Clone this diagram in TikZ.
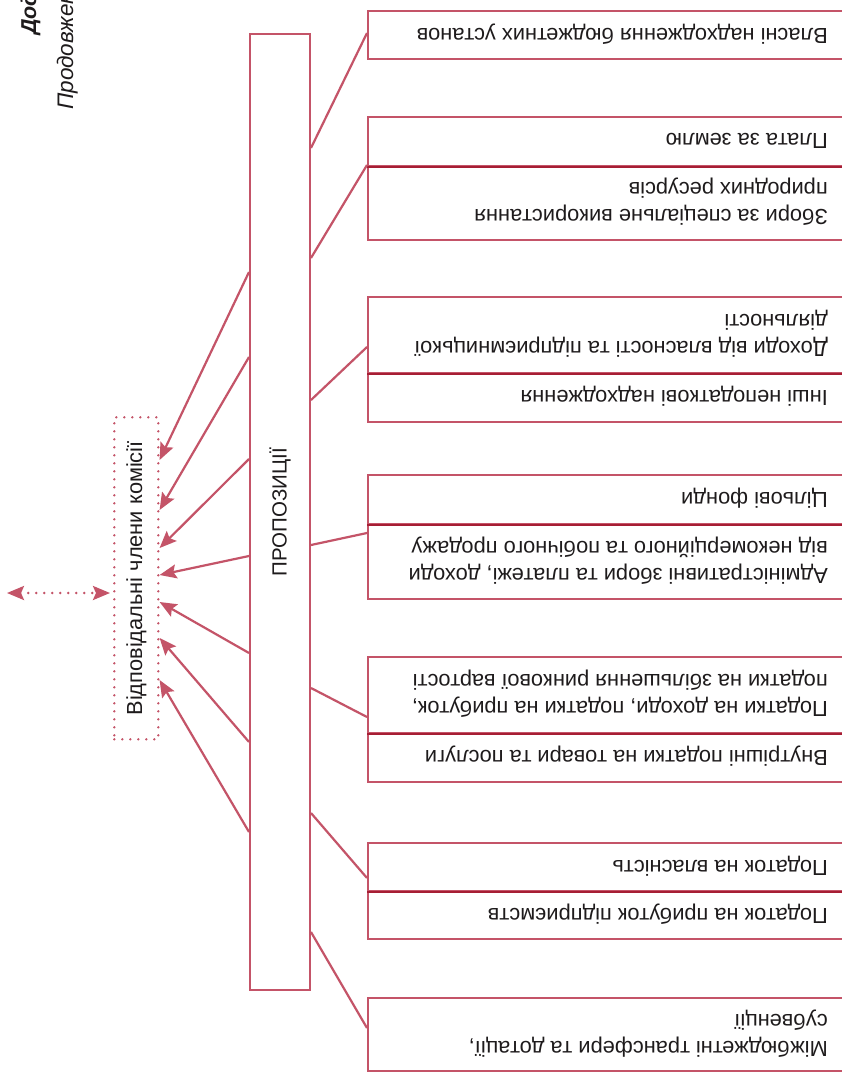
\documentclass[tikz,border=0pt]{standalone}
\usepackage{fontspec}
\setmainfont{Liberation Sans}
\usetikzlibrary{arrows.meta}
\definecolor{frame}{RGB}{196,84,104}
\definecolor{rule}{RGB}{166,30,52}
\definecolor{ink}{RGB}{30,27,28}

\begin{document}
\begin{tikzpicture}[x=1pt,y=-1pt,
  cell/.style={draw=frame,line width=2pt,minimum width=540,inner sep=0pt,anchor=north west},
  divider/.style={draw=rule,line width=2.2pt},
  lbl/.style={rotate=180,anchor=west,align=left,inner sep=0pt,text=ink,
    font=\fontsize{21.8}{27}\selectfont},
  vlbl/.style={rotate=90,inner sep=0pt,text=ink},
  link/.style={draw=frame,line width=2.2pt},
  arr/.style={link,-{Stealth[length=17pt,width=14pt,inset=3pt]}},
  dotline/.style={draw=frame,line width=2.6pt,line cap=round,dash pattern=on 0pt off 8pt},
  head/.style={rotate=90,anchor=base west,inner sep=0pt,text=ink}
]
\useasboundingbox (0,0) rectangle (842,1073);
\begin{scope}
\clip (0,0) rectangle (842,1073);
\fill[white] (0,0) rectangle (842,1073);

% running header, cut by the page edge
\node[head,font=\fontsize{21.5}{24}\selectfont\bfseries\itshape] (hd1) at (36,35) {Додаток};
\node[head,font=\fontsize{22.5}{26}\selectfont\itshape] (hd2) at (73,110) {Продовження};

% revenue categories (right column)
\node[cell,minimum height=48] (b1) at (367,10) {};
\node[cell,minimum height=49] (b2a) at (367,116) {};
\node[cell,minimum height=74] (b2b) at (367,165) {};
\node[cell,minimum height=76] (b3a) at (367,296) {};
\node[cell,minimum height=49] (b3b) at (367,372) {};
\node[cell,minimum height=49] (b4a) at (367,474) {};
\node[cell,minimum height=75] (b4b) at (367,523) {};
\node[cell,minimum height=76] (b5a) at (367,656) {};
\node[cell,minimum height=49] (b5b) at (367,732) {};
\node[cell,minimum height=48] (b6a) at (367,842) {};
\node[cell,minimum height=48] (b6b) at (367,890) {};
\node[cell,minimum height=73] (b7) at (367,997) {};

\draw[divider] (b2a.south west) -- (b2a.south east);
\draw[divider] (b3a.south west) -- (b3a.south east);
\draw[divider] (b4a.south west) -- (b4a.south east);
\draw[divider] (b5a.south west) -- (b5a.south east);
\draw[divider] (b6a.south west) -- (b6a.south east);

\node[lbl] (t1) at (828,34) {Власні надходження бюджетних установ};
\node[lbl] (t2a) at (828,140.5) {Плата за землю};
\node[lbl] (t2b) at (828,202) {Збори за спеціальне використання\\природних ресурсів};
\node[lbl] (t3a) at (828,334) {Доходи від власності та підприємницької\\діяльності};
\node[lbl] (t3b) at (828,396.5) {Інші неподаткові надходження};
\node[lbl] (t4a) at (828,498.5) {Цільові фонди};
\node[lbl] (t4b) at (828,560.5) {Адміністративні збори та платежі, доходи\\від некомерційного та побічного продажу};
\node[lbl] (t5a) at (828,694) {Податки на доходи, податки на прибуток,\\податки на збільшення ринкової вартості};
\node[lbl] (t5b) at (828,756.5) {Внутрішні податки на товари та послуги};
\node[lbl] (t6a) at (828,866) {Податок на власність};
\node[lbl] (t6b) at (828,914) {Податок на прибуток підприємств};
\node[lbl] (t7) at (828,1033.5) {Міжбюджетні трансфери та дотації,\\субвенції};

% proposals column
\node[draw=frame,line width=2pt,minimum width=60,minimum height=956,inner sep=0pt,anchor=north west] (P) at (249,33) {};
\node[vlbl,font=\fontsize{20.5}{24}\selectfont] (Pt) at (P.center) {ПРОПОЗИЦІЇ};

% responsible commission members
\node[dotline,minimum width=44,minimum height=322,inner sep=0pt,anchor=north west] (C) at (113,416) {};
\node[vlbl,font=\fontsize{21.8}{24}\selectfont] (Ct) at (C.center) {Відповідальні члени комісії};

% categories feed the proposals
\draw[link] (P.east |- 0,148) -- (b1.west |- 0,33);
\draw[link] (P.east |- 0,258) -- (b2b.north west);
\draw[link] (P.east |- 0,400) -- (b3a.west |- 0,347);
\draw[link] (P.east |- 0,545) -- (b4b.west |- 0,533);
\draw[link] (P.east |- 0,688) -- (b5a.west |- 0,717);
\draw[link] (P.east |- 0,813) -- (b6a.west |- 0,878);
\draw[link] (P.east |- 0,932) -- (b7.west |- 0,1028);

% proposals go to the commission members
\draw[arr] (P.west |- 0,272) -- (C.east |- 0,460);
\draw[arr] (P.west |- 0,357) -- (C.east |- 0,510);
\draw[arr] (P.west |- 0,459) -- (C.east |- 0,548);
\draw[arr] (P.west |- 0,556) -- (C.east |- 0,575);
\draw[arr] (P.west |- 0,653) -- (C.east |- 0,602);
\draw[arr] (P.west |- 0,742) -- (C.east |- 0,638);
\draw[arr] (P.west |- 0,832) -- (C.east |- 0,680);

% two-way link to the outside
\coordinate (ext) at (7,593);
\draw[dotline,{Stealth[length=17pt,width=14pt,inset=3pt]}-{Stealth[length=17pt,width=14pt,inset=3pt]}]
  (ext) -- ([xshift=-3pt]C.west |- ext);
\end{scope}
\end{tikzpicture}
\end{document}
